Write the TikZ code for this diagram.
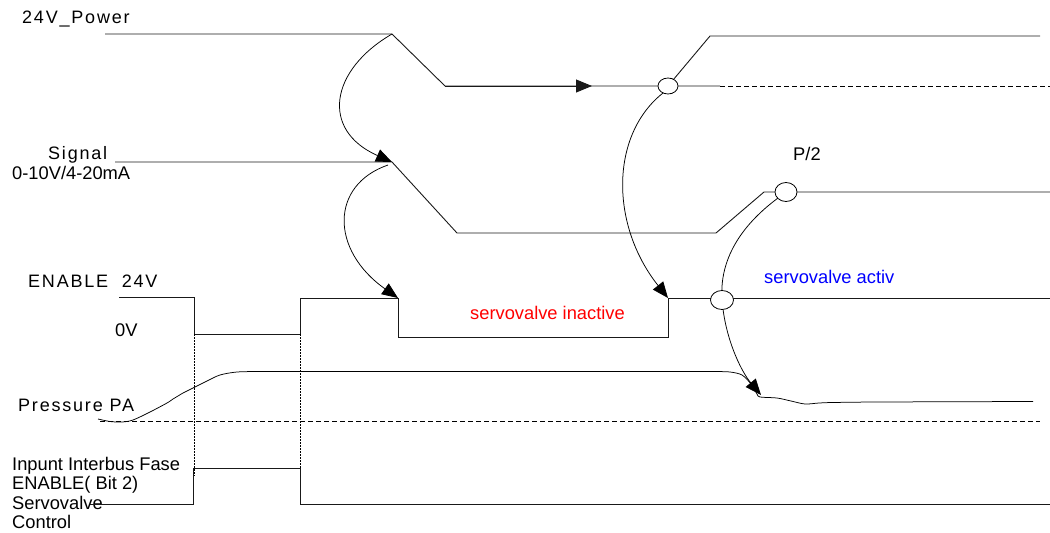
\documentclass[tikz,border=0pt]{standalone}
\usepackage{fontspec}
\setmainfont{Liberation Sans}
\newfontfamily\spaced[LetterSpace=10]{Liberation Sans}
\usetikzlibrary{arrows.meta,shapes.geometric}
\begin{document}
\begin{tikzpicture}[x=1pt,y=-1pt,
  sig/.style={line width=0.9pt,draw=black!90},
  thinline/.style={line width=0.75pt,draw=black},
  arr/.style={thinline,-{Triangle[length=16pt,width=13pt]}},
  valve/.style={ellipse,draw=black,line width=0.8pt,fill=white,inner sep=0pt},
  lbl/.style={anchor=base west,inner sep=0pt,font=\fontsize{18.3}{20}\selectfont},
  slbl/.style={anchor=base west,inner sep=0pt,font=\fontsize{18}{20}\selectfont\spaced},
  dotline/.style={line width=0.8pt,dash pattern=on 1.5pt off 1.5pt},
  dashline/.style={line width=0.8pt,dash pattern=on 5pt off 3pt}
]
\useasboundingbox (0,0) rectangle (1050,533);

% labels
\node[slbl] (tpow) at (22,23) {24V\_Power};
\node[slbl] (tsig) at (48,159) {Signal};
\node[lbl] (tsig2) at (12,179) {0-10V/4-20mA};
\node[slbl] (ten) at (28,287) {ENABLE\ \ 24V};
\node[lbl] (t0v) at (115,336) {0V};
\node[slbl] (tpa) at (18,411) {Pressure PA};
\node[lbl] (tb1) at (12,470) {Inpunt Interbus Fase};
\node[lbl] (tb2) at (12,489.5) {ENABLE( Bit 2)};
\node[lbl] (tb3) at (12,509) {Servovalve};
\node[lbl] (tb4) at (12,528) {Control};
\node[lbl] (tp2) at (793,160) {P/2};
\node[lbl,text=red] (tin) at (470,319) {servovalve inactive};
\node[lbl,text=blue] (tact) at (764,283) {servovalve activ};

% coordinates
\coordinate (pA) at (105,34);
\coordinate (pB) at (392,34);
\coordinate (pC) at (445,86);
\coordinate (pArr) at (592,86);
\coordinate (pD) at (720,86);
\coordinate (pE) at (1050,86);
\coordinate (pUp) at (710,36);
\coordinate (pUpE) at (1040,36);

\coordinate (sA) at (115,162);
\coordinate (sB) at (392,162);
\coordinate (sC) at (457,233);
\coordinate (sD) at (716,233);
\coordinate (sE) at (764,192);
\coordinate (sF) at (1050,192);

\coordinate (eA) at (119,297);
\coordinate (eB) at (194,297);
\coordinate (eC) at (194,334);
\coordinate (eD) at (300,334);
\coordinate (eE) at (300,298);
\coordinate (eF) at (398,298);
\coordinate (eG) at (398,337);
\coordinate (eH) at (668,337);
\coordinate (eI) at (668,298);
\coordinate (eJ) at (1050,298);

% power line
\draw[sig] (pA) -- (pB) -- (pC) -- (pD);
\draw[sig,-{Triangle[length=16pt,width=13pt]}] (pC) -- (pArr);
\draw[dashline] (pD) -- (pE);
\draw[sig] (668,86) -- (pUp) -- (pUpE);

% signal line
\draw[sig] (sA) -- (sB) -- (sC) -- (sD) -- (sE) -- (sF);

% enable line
\draw[sig] (eA) -- (eB) -- (eC) -- (eD) -- (eE) -- (eF) -- (eG) -- (eH) -- (eI) -- (eJ);

% dotted verticals
\draw[dotline] (eC) -- (194,476);
\draw[dotline] (eD) -- (300,476);

% pressure
\draw[dashline] (100,421) -- (1040,421);
\draw[thinline] plot[smooth,tension=0.5] coordinates {(98,419) (110,421.5) (122,422) (133,420) (150,412) (167,403) (173,399) (178,396) (183,393) (193,388) (207,381) (220,375) (237,372) (260,371.5)};
\draw[thinline] (260,371.5) -- (714,371.5);
\draw[thinline] plot[smooth,tension=0.5] coordinates {(714,371.5) (730,372) (742,375) (751,384) (757,394) (760,397) (777,398) (791,401) (805,404) (819,403) (833,402.5) (879,402) (1033,401.5)};

% bit pulse
\draw[sig] (90,504) -- (193,504) -- (193,468) -- (300,468) -- (300,504) -- (1050,504);

% curved arrows
\draw[arr] (pB) .. controls (330,70) and (320,130) .. (sB);
\draw[arr] (388,165) .. controls (330,185) and (330,250) .. (eF);
\draw[arr] (663,93) .. controls (610,135) and (610,225) .. (eI);
\draw[thinline] (778,198) .. controls (735,230) and (720,265) .. (722,298);
\draw[arr] (722,298) .. controls (724,335) and (740,370) .. (761,395);

% valves (circles)
\node[valve,minimum width=20pt,minimum height=16pt] (v1) at (668,86) {};
\node[valve,minimum width=22pt,minimum height=19pt] (v2) at (786,192) {};
\node[valve,minimum width=23pt,minimum height=19pt] (v3) at (722,300) {};
\end{tikzpicture}
\end{document}
